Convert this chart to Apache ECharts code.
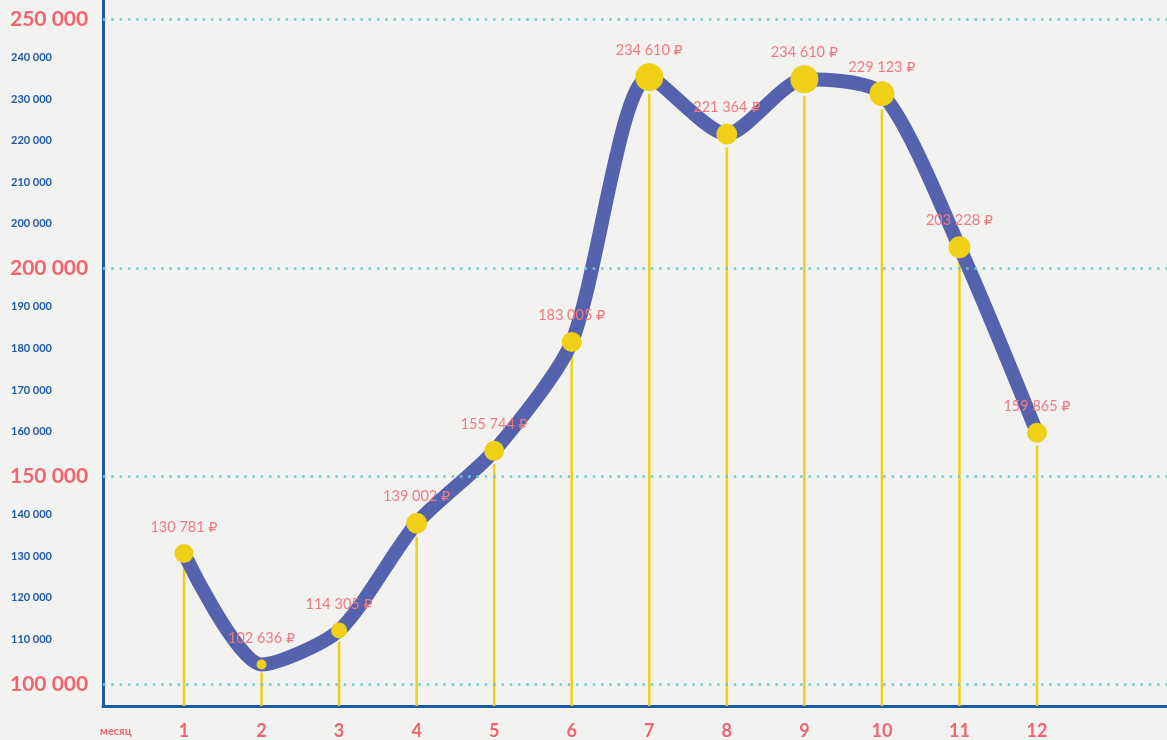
<!DOCTYPE html>
<html>
<head>
<meta charset="utf-8">
<style>
html,body{margin:0;padding:0;background:#f2f2f0;}
#chart{width:1167px;height:740px;}
</style>
<script src="https://cdn.jsdelivr.net/npm/echarts@6/dist/echarts.min.js"></script>
</head>
<body>
<div id="chart"></div>
<script>
// ---- data ----
const months = [1, 2, 3, 4, 5, 6, 7, 8, 9, 10, 11, 12];
// amounts printed above each point (₽)
const amounts = [130781, 102636, 114305, 139002, 155744, 183005, 234610, 221364, 234610, 229123, 203228, 159865];
// height of each point as drawn, read against the small tick rows
const levels = [131400, 104700, 112900, 138700, 156100, 182300, 246000, 232300, 245500, 242000, 205100, 160450];
// tick rows from bottom to top, as printed on the axis (one row per 10 000 step)
const yTickLabels = ['100 000', '110 000', '120 000', '130 000', '140 000', '150 000', '160 000', '170 000',
  '180 000', '190 000', '200 000', '200 000', '210 000', '220 000', '230 000', '240 000', '250 000'];
const yTickMajor = [true, false, false, false, false, true, false, false,
  false, false, true, false, false, false, false, false, true];
const xAxisName = 'месяц';

// ---- styles ----
const symbolSizes = [19, 10, 16, 21, 20, 20, 28, 21, 28, 25, 22, 20];
const RED = '#f1646e';
const BLUE = '#1c5aa8';
const YELLOW = '#efd016';
const LINE = '#5563ae';
const DOT = '#6ccad8';
const FONT = 'Lato, "Open Sans", "DejaVu Sans", sans-serif';

const tickValues = yTickLabels.map((_, i) => 100000 + i * 10000);
const majorValues = tickValues.filter((_, i) => yTickMajor[i]);
const fmt = n => String(n).replace(/\B(?=(\d{3})+(?!\d))/g, ' ') + ' ₽';

const chart = echarts.init(document.getElementById('chart'), null, {renderer: 'canvas'});
chart.setOption({
  backgroundColor: '#f2f2f0',
  animation: false,
  grid: {left: 103, right: 0, top: 0, bottom: 32, containLabel: false},
  xAxis: {
    type: 'value',
    min: -0.0446,
    max: 13.6765,
    axisLine: {show: true, onZero: false, lineStyle: {color: BLUE, width: 3}},
    axisTick: {show: false},
    splitLine: {show: false},
    axisLabel: {
      customValues: months,
      margin: 16,
      color: RED,
      fontFamily: FONT,
      fontWeight: 'bold',
      fontSize: 18,
      formatter: v => String(v)
    }
  },
  yAxis: {
    type: 'value',
    min: 94720,
    max: 264560,
    axisLine: {show: true, onZero: false, lineStyle: {color: BLUE, width: 3}},
    axisTick: {show: false},
    splitLine: {show: false},
    axisLabel: {
      customValues: tickValues,
      align: 'left',
      margin: 93,
      formatter: v => {
        const i = Math.round((v - 100000) / 10000);
        if (i < 0 || i >= yTickLabels.length) return '';
        return yTickMajor[i] ? '{big|' + yTickLabels[i] + '}' : '{small|' + yTickLabels[i] + '}';
      },
      rich: {
        big: {color: RED, fontFamily: FONT, fontWeight: 'bold', fontSize: 21},
        small: {color: BLUE, fontFamily: FONT, fontWeight: 'bold', fontSize: 11, padding: [0, 0, 6, 1]}
      }
    }
  },
  graphic: [{
    type: 'text',
    left: 100,
    top: 726,
    style: {text: xAxisName, fill: RED, font: 'bold 11px ' + FONT}
  }],
  series: [
    {
      type: 'line',
      data: [],
      z: 0,
      silent: true,
      markLine: {
        silent: true,
        symbol: 'none',
        label: {show: false},
        lineStyle: {color: DOT, type: [2.5, 5.8], width: 2.5},
        data: majorValues.map(v => ({yAxis: v}))
      }
    },
    {
      type: 'custom',
      z: 1,
      silent: true,
      data: months.map((m, i) => [m, levels[i]]),
      renderItem: (params, api) => {
        const p = api.coord([api.value(0), api.value(1)]);
        const r = symbolSizes[params.dataIndex] / 2;
        const bottom = params.coordSys.y + params.coordSys.height;
        return {
          type: 'line',
          shape: {x1: p[0], y1: p[1] + r + 3, x2: p[0], y2: bottom},
          style: {stroke: YELLOW, lineWidth: 2.5}
        };
      }
    },
    {
      type: 'line',
      z: 2,
      smooth: 0.25,
      showAllSymbol: true,
      symbol: 'circle',
      symbolSize: (v, p) => symbolSizes[p.dataIndex],
      lineStyle: {color: LINE, width: 14, join: 'round', cap: 'round'},
      itemStyle: {color: YELLOW, borderWidth: 0},
      label: {
        show: true,
        position: 'top',
        color: '#f27a7f',
        fontFamily: FONT,
        fontSize: 14.5,
        formatter: p => fmt(amounts[p.dataIndex])
      },
      data: months.map((m, i) => ({
        value: [m, levels[i]],
        label: {distance: 19 - symbolSizes[i] / 2}
      }))
    }
  ]
});
</script>
</body>
</html>
